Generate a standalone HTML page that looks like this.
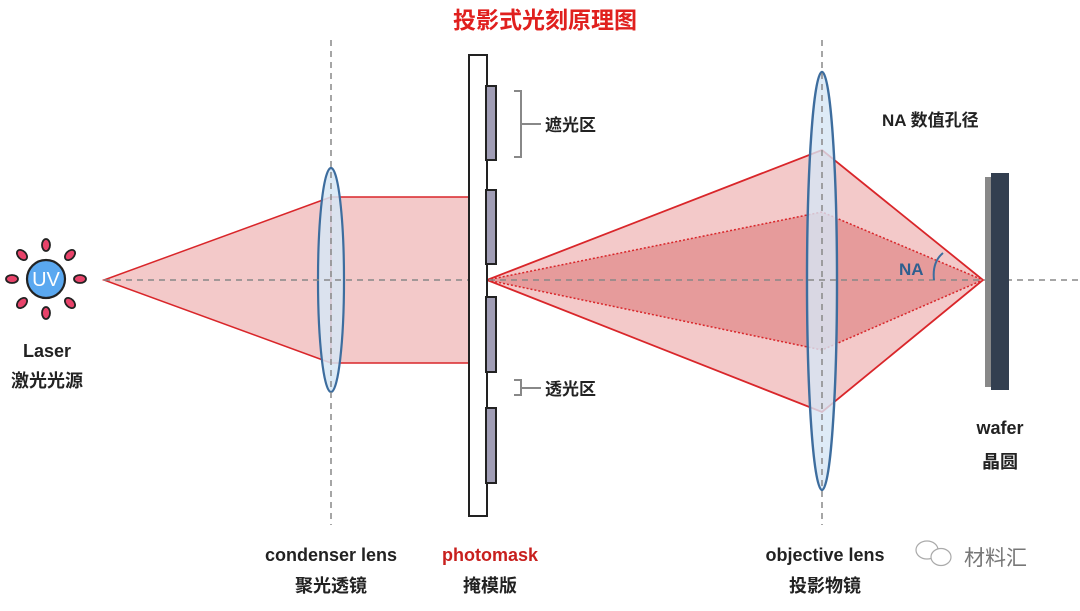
<!DOCTYPE html>
<html><head><meta charset="utf-8"><style>
body{margin:0;background:#fff;width:1080px;height:606px;overflow:hidden}
text{font-family:"Liberation Sans","Noto Sans CJK SC",sans-serif;font-weight:bold}
</style></head><body>
<svg width="1080" height="606" viewBox="0 0 1080 606">
<text x="545" y="28" text-anchor="middle" font-size="23" fill="#e0201e">投影式光刻原理图</text>
<polygon points="104,280 331,197 331,363" fill="#f3c9c9" stroke="#d9262a" stroke-width="1.5"/>
<rect x="331" y="197" width="138" height="166" fill="#f3c9c9" stroke="#d9262a" stroke-width="1.5"/>
<polygon points="487,280 822,150 983,280 822,412" fill="#f3c9c9" stroke="#d9262a" stroke-width="1.8"/>
<polygon points="487,280 822,212 983,280 822,350" fill="#e39393" fill-opacity="0.85" stroke="#d9262a" stroke-width="1.5" stroke-dasharray="2,2"/>
<ellipse cx="331" cy="280" rx="13" ry="112" fill="#d6e6f5" fill-opacity="0.85" stroke="#3d6d9e" stroke-width="2.2"/>
<ellipse cx="822" cy="281" rx="15" ry="209" fill="#d6e6f5" fill-opacity="0.8" stroke="#3d6d9e" stroke-width="2.4"/>
<g stroke="#888" stroke-width="1.5" stroke-dasharray="6,5" fill="none">
<line x1="104" y1="280" x2="1078" y2="280"/>
<line x1="331" y1="40" x2="331" y2="525"/>
<line x1="822" y1="40" x2="822" y2="525"/>
</g>
<rect x="469" y="55" width="18" height="461" fill="#fff" stroke="#222" stroke-width="2"/>
<g fill="#a09db5" stroke="#222" stroke-width="2">
<rect x="486" y="86" width="10" height="74"/><rect x="486" y="190" width="10" height="74"/>
<rect x="486" y="297" width="10" height="75"/><rect x="486" y="408" width="10" height="75"/>
</g>
<g stroke="#888" stroke-width="2" fill="none">
<path d="M514,91 h7 v66 h-7 M521,124 h20"/>
<path d="M514,380 h7 v15 h-7 M521,388 h20"/>
</g>
<text x="545" y="131" font-size="17" fill="#222">遮光区</text>
<text x="545" y="395" font-size="17" fill="#222">透光区</text>
<rect x="985" y="177" width="8" height="210" fill="#888"/>
<rect x="991" y="173" width="18" height="217" fill="#333f50"/>
<path d="M943,253 Q932,262 934,280" stroke="#3d6d9e" stroke-width="2" fill="none"/>
<text x="899" y="275" font-size="17" fill="#2f5f8f">NA</text>
<text x="882" y="126" font-size="17" fill="#222">NA 数值孔径</text>
<g transform="translate(46,279)">
<g stroke="#222" stroke-width="1.8" fill="#e8436a">
<ellipse cx="0" cy="-34" rx="4" ry="6"/><ellipse cx="0" cy="34" rx="4" ry="6"/>
<ellipse cx="-34" cy="0" rx="6" ry="4"/><ellipse cx="34" cy="0" rx="6" ry="4"/>
<ellipse cx="-24" cy="-24" rx="4" ry="6" transform="rotate(-45 -24 -24)"/>
<ellipse cx="24" cy="24" rx="4" ry="6" transform="rotate(-45 24 24)"/>
<ellipse cx="24" cy="-24" rx="4" ry="6" transform="rotate(45 24 -24)"/>
<ellipse cx="-24" cy="24" rx="4" ry="6" transform="rotate(45 -24 24)"/>
</g>
<circle r="19" fill="#5aa8f0" stroke="#222" stroke-width="2.2"/>
<text x="0" y="7" font-size="20" text-anchor="middle" fill="#fff" style="font-weight:normal">UV</text>
</g>
<text x="47" y="357" font-size="18" text-anchor="middle" fill="#222">Laser</text>
<text x="47" y="387" font-size="18" text-anchor="middle" fill="#222">激光光源</text>
<text x="331" y="561" font-size="18" text-anchor="middle" fill="#222">condenser lens</text>
<text x="331" y="592" font-size="18" text-anchor="middle" fill="#222">聚光透镜</text>
<text x="490" y="561" font-size="18" text-anchor="middle" fill="#c8201e">photomask</text>
<text x="490" y="592" font-size="18" text-anchor="middle" fill="#222">掩模版</text>
<text x="825" y="561" font-size="18" text-anchor="middle" fill="#222">objective lens</text>
<text x="825" y="592" font-size="18" text-anchor="middle" fill="#222">投影物镜</text>
<text x="1000" y="434" font-size="18" text-anchor="middle" fill="#222">wafer</text>
<text x="1000" y="468" font-size="18" text-anchor="middle" fill="#222">晶圆</text>
<g stroke="#aaa" stroke-width="1.2" fill="#fff">
<ellipse cx="927" cy="550" rx="11" ry="9"/><ellipse cx="941" cy="557" rx="10" ry="8.5"/>
</g>
<text x="964" y="565" font-size="21" fill="#777" style="font-weight:normal">材料汇</text>
</svg>
</body></html>
